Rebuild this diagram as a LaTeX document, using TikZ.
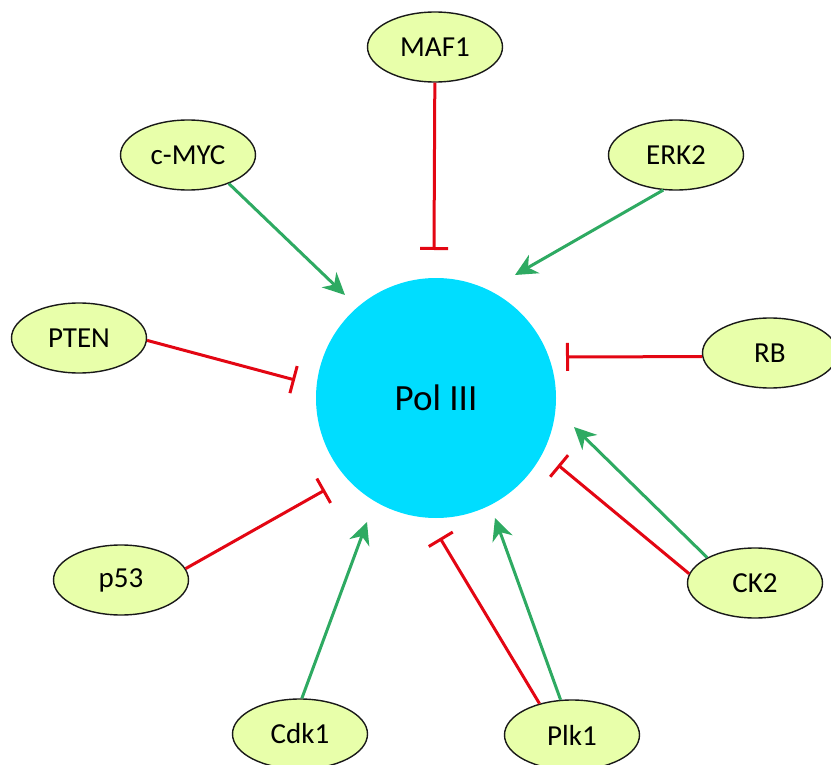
\documentclass[tikz,border=0pt]{standalone}
\usepackage{fontspec}
\setmainfont{Carlito}
\usetikzlibrary{shapes.geometric,arrows.meta}
\definecolor{actgreen}{RGB}{46,170,98}
\definecolor{inhred}{RGB}{227,6,19}
\definecolor{nodefill}{RGB}{232,255,170}
\definecolor{polcyan}{RGB}{0,221,255}
\tikzset{
  reg/.style={ellipse, draw=black!90, line width=1.4pt, fill=nodefill,
    minimum width=135pt, minimum height=70pt, inner sep=0pt,
    font=\fontsize{29}{31}\selectfont},
  act/.style={draw=actgreen, line width=3pt,
    -{Stealth[length=22pt,width=21pt,inset=7pt]}},
  inh/.style={draw=inhred, line width=3pt, -{Bar[width=28pt]}},
}
\begin{document}
\begin{tikzpicture}[x=1pt,y=-1pt]
\useasboundingbox (0,0) rectangle (831,765);
\node[circle, fill=polcyan, minimum size=240pt, inner sep=0pt,
  font=\fontsize{37}{40}\selectfont] (pol) at (436,398) {Pol III};
\node[reg] (maf1) at (435,47) {MAF1};
\node[reg] (myc) at (188,155) {c-MYC};
\node[reg] (erk2) at (676,155) {ERK2};
\node[reg] (pten) at (79,338) {PTEN};
\node[reg] (rb) at (770,353) {RB};
\node[reg] (p53) at (121,580) {p53};
\node[reg] (ck2) at (755,583) {CK2};
\node[reg] (cdk1) at (300,734) {Cdk1};
\node[reg] (plk1) at (572,735) {Plk1};
\coordinate (maf1e) at (434,250);
\coordinate (myce) at (345,295);
\coordinate (erke) at (515,275);
\coordinate (ptene) at (295,380);
\coordinate (rbe) at (566,357);
\coordinate (p53e) at (325,490);
\coordinate (ck2r) at (558,465);
\coordinate (ck2g) at (574,427);
\coordinate (cdke) at (367,522);
\coordinate (plkr) at (440,538);
\coordinate (plkg) at (495,518);
\draw[inh] (maf1) -- (maf1e);
\draw[act] (myc.-35) -- (myce);
\draw[act] (erk2.250) -- (erke);
\draw[inh] (pten.-2) -- (ptene);
\draw[inh] (rb.183) -- (rbe);
\draw[inh] (p53.10) -- (p53e);
\draw[inh] (ck2.172) -- (ck2r);
\draw[act] (ck2.152) -- (ck2g);
\draw[act] (cdk1.87) -- (cdke);
\draw[inh] (plk1.136) -- (plkr);
\draw[act] (plk1.108) -- (plkg);
\end{tikzpicture}
\end{document}
